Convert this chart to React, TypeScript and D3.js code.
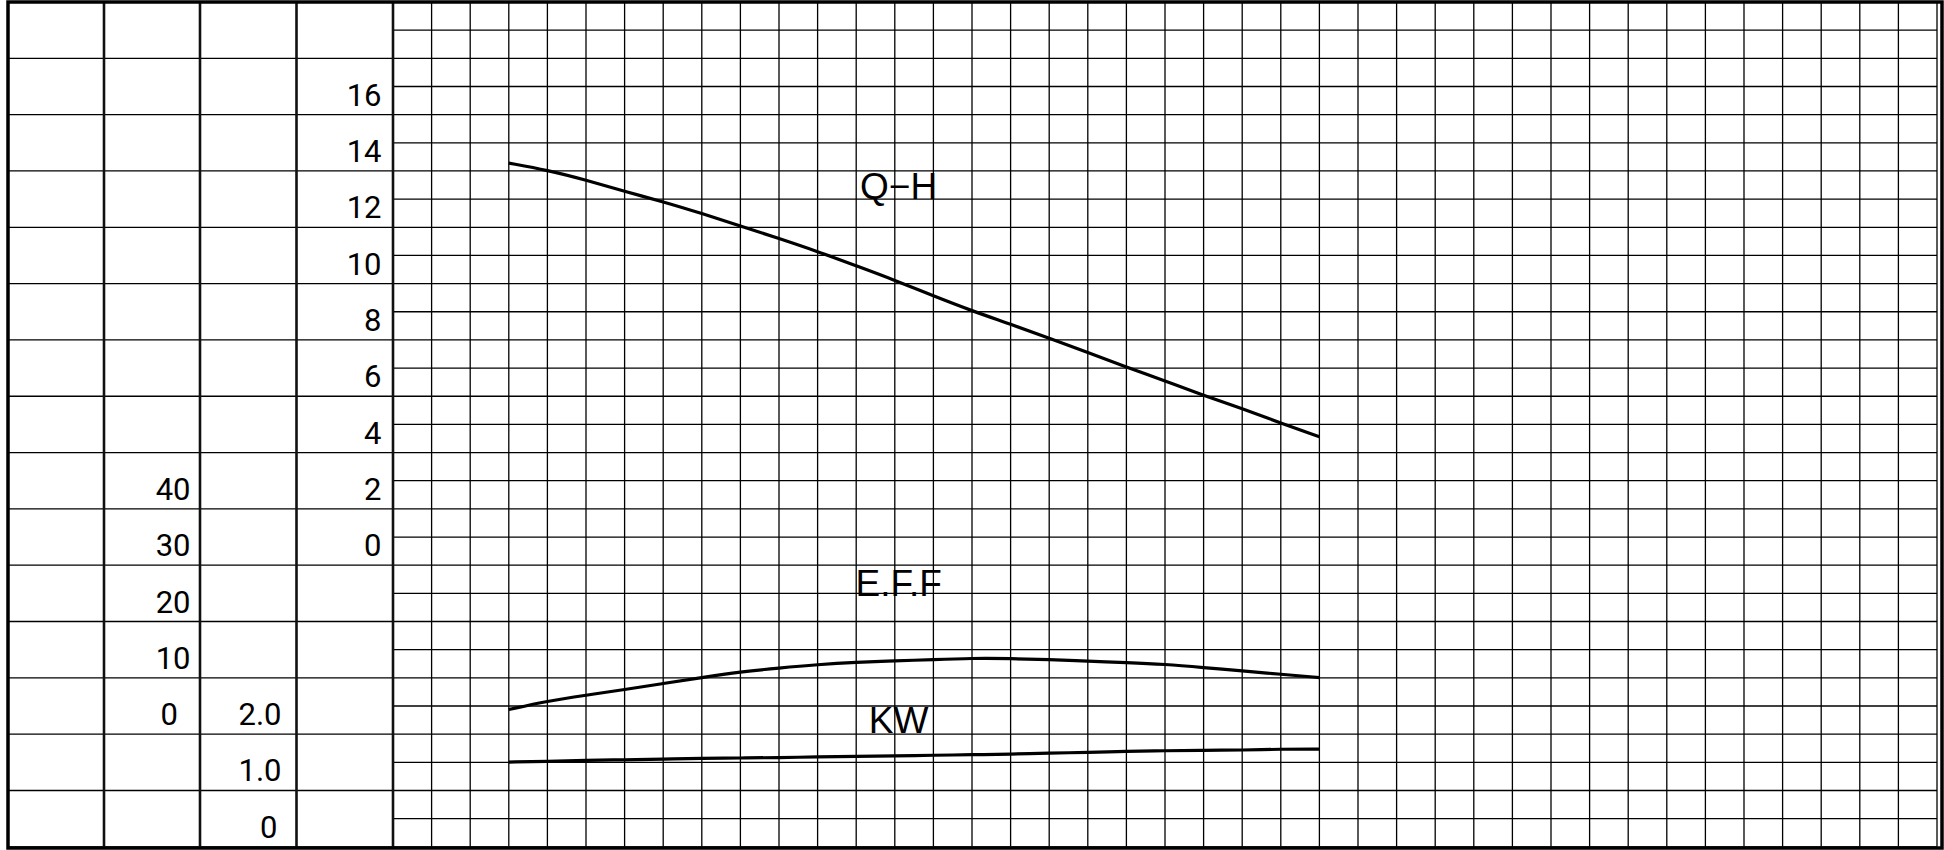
import * as d3 from "d3";
import { useEffect, useRef } from "react";

const flow = [3, 4, 5, 6, 7, 8, 9, 10, 11, 12, 13, 14, 15, 16, 17, 18, 19, 20, 21, 22, 23, 24];
// Q-H head (m)
const head = [13.57, 13.32, 12.97, 12.56, 12.2, 11.78, 11.34, 10.89, 10.43, 9.92, 9.41, 8.85, 8.32, 7.85, 7.35, 6.84, 6.33, 5.83, 5.32, 4.85, 4.34, 3.85];
// E.F.F efficiency (%)
const eff = [0.82, 2.34, 3.36, 4.37, 5.44, 6.5, 7.5, 8.2, 8.81, 9.22, 9.45, 9.7, 9.93, 9.88, 9.7, 9.4, 9.17, 8.86, 8.28, 7.67, 7.09, 6.5];
// KW shaft power
const kw = [1.15, 1.16, 1.18, 1.19, 1.2, 1.22, 1.22, 1.23, 1.24, 1.25, 1.26, 1.27, 1.28, 1.29, 1.31, 1.32, 1.34, 1.35, 1.36, 1.36, 1.38, 1.38];

const headTicks = [16, 14, 12, 10, 8, 6, 4, 2, 0];
const effTicks = [40, 30, 20, 10, 0];
const kwTicks = [2, 1, 0];
const kwLabels = ["2.0", "1.0", "0"];

const curveLabels = [
  { text: "Q\u2212H", series: "head" },
  { text: "E.F.F", series: "eff" },
  { text: "KW", series: "kw" },
];

export default function App() {
  const ref = useRef<SVGSVGElement>(null);

  useEffect(() => {
    const W = 1944, H = 850;
    const top = 2, bottom = 846.8;
    const rows = 30, cols = 40;
    const colEdges = [8, 104, 200, 296.5, 393];

    const svg = d3.select(ref.current);
    svg.selectAll("*").remove();
    svg.attr("width", W).attr("height", H);

    svg.append("rect").attr("width", W).attr("height", H).attr("fill", "#fff");

    // grid of the chart area
    const gridX = d3.scaleLinear().domain([0, cols]).range([393, 1937]);
    const gridY = d3.scaleLinear().domain([0, rows]).range([top, bottom]);

    const grid = svg.append("g").attr("stroke", "#000").attr("stroke-width", 1.3);
    grid.selectAll("line.v")
      .data(d3.range(cols + 1))
      .join("line")
      .attr("class", "v")
      .attr("x1", d => gridX(d)).attr("x2", d => gridX(d))
      .attr("y1", top).attr("y2", bottom);
    grid.selectAll("line.h")
      .data(d3.range(rows + 1))
      .join("line")
      .attr("class", "h")
      .attr("x1", gridX(0)).attr("x2", gridX(cols))
      .attr("y1", d => gridY(d)).attr("y2", d => gridY(d));

    // left table rows, one per two grid rows
    grid.selectAll("line.t")
      .data(d3.range(0, rows + 1, 2))
      .join("line")
      .attr("class", "t")
      .attr("x1", colEdges[0]).attr("x2", colEdges[4])
      .attr("y1", d => gridY(d)).attr("y2", d => gridY(d));

    // column separators
    svg.append("g")
      .selectAll("line")
      .data(colEdges.slice(1))
      .join("line")
      .attr("x1", d => d).attr("x2", d => d)
      .attr("y1", top).attr("y2", bottom)
      .attr("stroke", "#111")
      .attr("stroke-width", 2.6);

    // outer frame
    svg.append("rect")
      .attr("x", 8).attr("y", top)
      .attr("width", 1942 - 8).attr("height", 848 - top)
      .attr("fill", "none")
      .attr("stroke", "#000")
      .attr("stroke-width", 3.5);

    // value scales, aligned on the table rows
    const x = gridX;
    const yH = d3.scaleLinear().domain([0, 16]).range([gridY(20) - 20, gridY(4) - 20]);
    const yE = d3.scaleLinear().domain([0, 40]).range([gridY(26) - 20, gridY(18) - 20]);
    const yK = d3.scaleLinear().domain([0, 2]).range([gridY(30) - 20, gridY(26) - 20]);

    // axis labels in the table
    const lab = svg.append("g")
      .attr("font-family", "Roboto, 'Noto Sans', sans-serif")
      .attr("font-size", 31)
      .attr("fill", "#000")
      .attr("text-anchor", "end");
    lab.selectAll("text.h")
      .data(headTicks)
      .join("text")
      .attr("class", "h")
      .attr("x", 381.5)
      .attr("y", d => yH(d) + 11)
      .text(d => String(d));
    lab.selectAll("text.e")
      .data(effTicks)
      .join("text")
      .attr("class", "e")
      .attr("x", d => (d === 0 ? 178 : 190.5))
      .attr("y", d => yE(d) + 11)
      .text(d => String(d));
    lab.selectAll("text.k")
      .data(kwTicks)
      .join("text")
      .attr("class", "k")
      .attr("x", d => (d === 0 ? 277.5 : 281.5))
      .attr("y", d => yK(d) + 11)
      .text((d, i) => kwLabels[i]);

    // curves
    const series = [
      { key: "head", values: head, y: yH },
      { key: "eff", values: eff, y: yE },
      { key: "kw", values: kw, y: yK },
    ];
    svg.append("g")
      .selectAll("path")
      .data(series)
      .join("path")
      .attr("fill", "none")
      .attr("stroke", "#000")
      .attr("stroke-width", 3.2)
      .attr("d", s =>
        d3.line<number>()
          .x((d, i) => x(flow[i]))
          .y(d => s.y(d))
          .curve(d3.curveBasis)(s.values)
      );

    // curve names
    const labelPos: Record<string, number> = {
      head: yH(12.28),
      eff: yE(21),
      kw: yK(1.67),
    };
    svg.append("g")
      .attr("font-family", "'Liberation Sans', Arial, sans-serif")
      .attr("font-size", 37)
      .attr("text-anchor", "middle")
      .selectAll("text")
      .data(curveLabels)
      .join("text")
      .attr("x", x(13.1))
      .attr("y", d => labelPos[d.series])
      .text(d => d.text);
  }, []);

  return (
    <svg
      ref={ref}
      style={{ position: "absolute", left: 0, top: 0, display: "block" }}
    />
  );
}
